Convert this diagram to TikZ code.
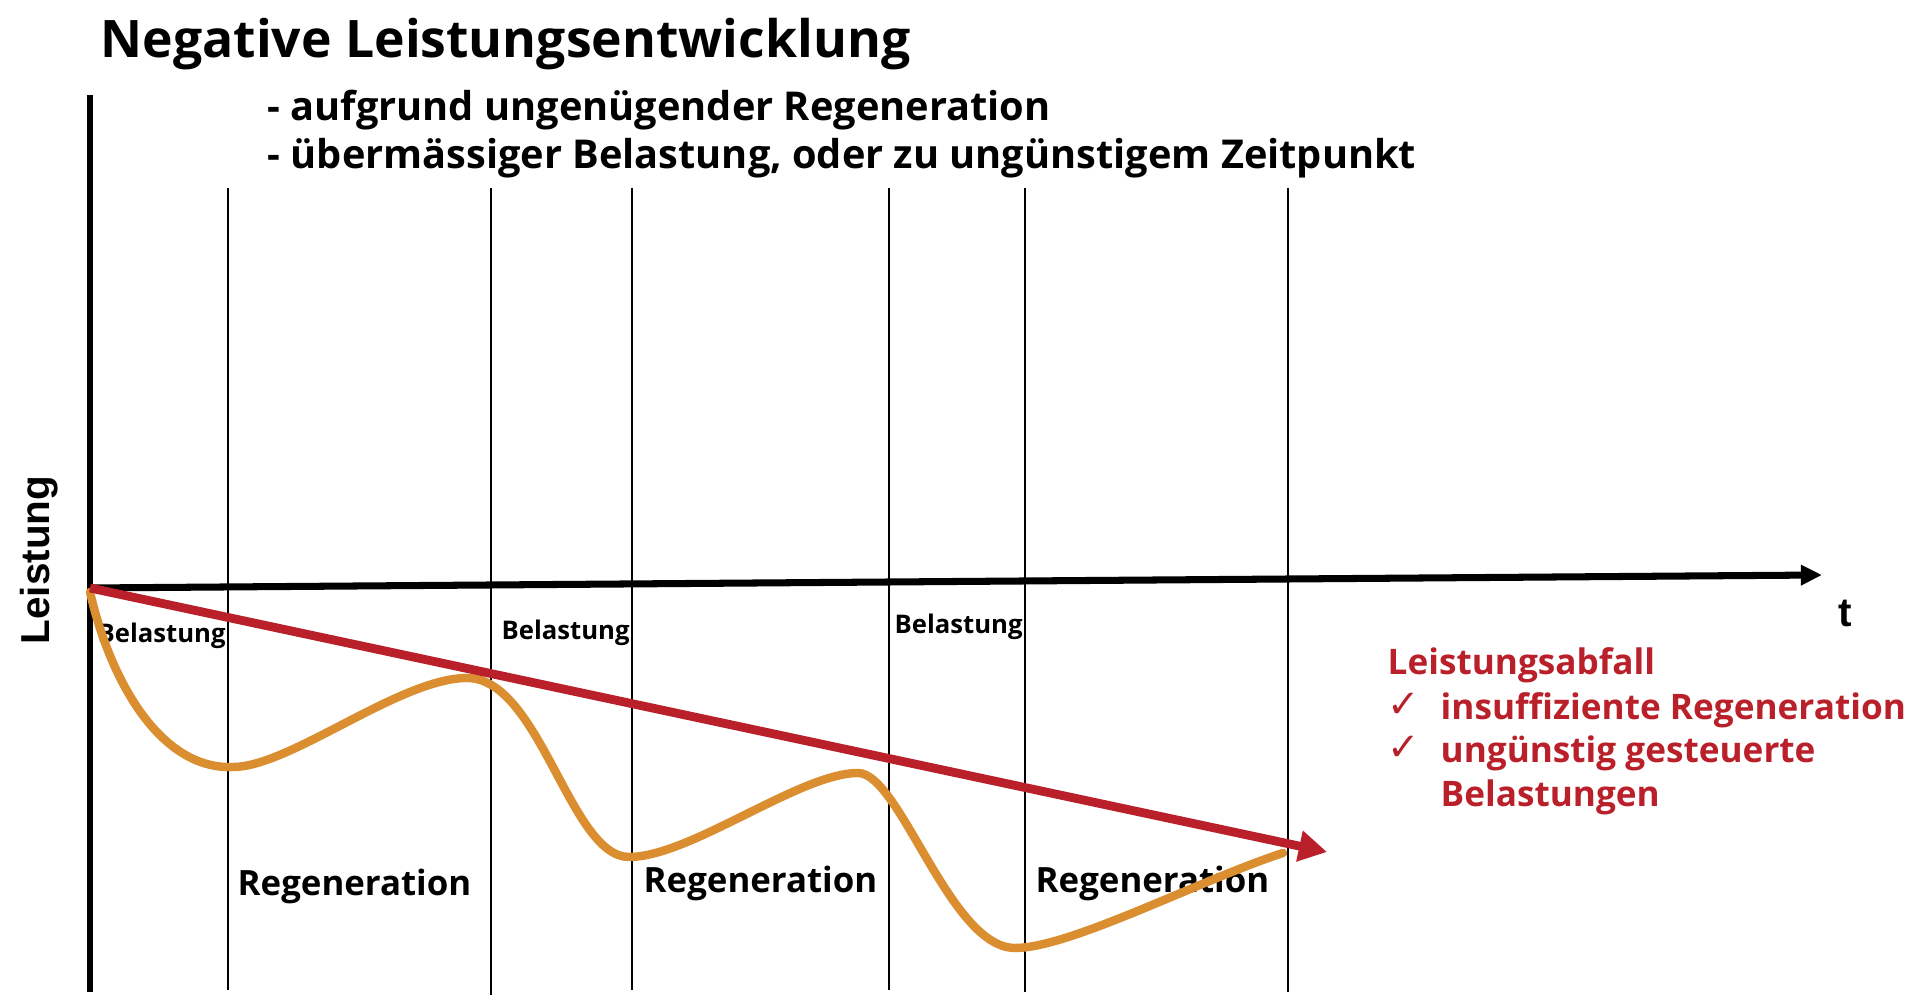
\documentclass[tikz,border=0pt]{standalone}
\usepackage{fontspec}
\setmainfont{Open Sans}
\newfontfamily\arialfont{Liberation Sans}
\newfontfamily\zeichenfont{DejaVu Sans}
\usetikzlibrary{arrows.meta}
\definecolor{abfallrot}{RGB}{185,32,42}
\definecolor{kurvenorange}{RGB}{218,142,48}
\begin{document}
\begin{tikzpicture}[x=0.01cm,y=-0.01cm,
    txt/.style={anchor=base west,inner sep=0pt,font=\bfseries},
    grenze/.style={line width=0.65pt},
    achse/.style={line width=1.7pt},
    rottxt/.style={txt,text=abfallrot,font=\bfseries\fontsize{10}{12}\selectfont}]
  \useasboundingbox (0,0) rectangle (1920,1004);

  % Ueberschriften
  \node (titel) at (100,58) [txt,font=\bfseries\fontsize{14.7}{17}\selectfont] {Negative Leistungsentwicklung} ;
  \node (sub1) at (267,121) [txt,font=\bfseries\fontsize{11.3}{13}\selectfont] {- aufgrund ungenügender Regeneration} ;
  \node (sub2) at (267,169) [txt,font=\bfseries\fontsize{11.3}{13}\selectfont] {- übermässiger Belastung, oder zu ungünstigem Zeitpunkt} ;

  % Grenzlinien
  \coordinate (g1o) at (228,188);  \coordinate (g1u) at (228,990);
  \coordinate (g2o) at (491,188);  \coordinate (g2u) at (491,995);
  \coordinate (g3o) at (632,188);  \coordinate (g3u) at (632,990);
  \coordinate (g4o) at (889,188);  \coordinate (g4u) at (889,990);
  \coordinate (g5o) at (1025,188); \coordinate (g5u) at (1025,992);
  \coordinate (g6o) at (1288,188); \coordinate (g6u) at (1288,992);
  \draw [grenze] (g1o) -- (g1u);
  \draw [grenze] (g2o) -- (g2u);
  \draw [grenze] (g3o) -- (g3u);
  \draw [grenze] (g4o) -- (g4u);
  \draw [grenze] (g5o) -- (g5u);
  \draw [grenze] (g6o) -- (g6u);

  % Achsen
  \coordinate (oben) at (90,95);
  \coordinate (unten) at (90,992);
  \coordinate (null) at (90,588);
  \coordinate (tend) at (1822,575);
  \draw [achse] (oben) -- (unten);
  \draw [achse,line width=2pt,-{Triangle[length=6pt,width=5.5pt]}] (null) -- (tend);
  \node (leistung) at (49,645) [txt,rotate=90,font=\arialfont\bfseries\fontsize{11.5}{13}\selectfont] {Leistung} ;
  \node (t) at (1838,627) [txt,font=\arialfont\bfseries\fontsize{11.5}{13}\selectfont] {t} ;

  % Phasen
  \node (bel1) at (97,643) [txt,font=\bfseries\fontsize{7.3}{9}\selectfont] {Belastung} ;
  \node (bel2) at (501,640) [txt,font=\bfseries\fontsize{7.3}{9}\selectfont] {Belastung} ;
  \node (bel3) at (894,634) [txt,font=\bfseries\fontsize{7.3}{9}\selectfont] {Belastung} ;
  \node (reg1) at (237,896) [txt,font=\bfseries\fontsize{9.9}{12}\selectfont] {Regeneration} ;
  \node (reg2) at (643,893) [txt,font=\bfseries\fontsize{9.9}{12}\selectfont] {Regeneration} ;
  \node (reg3) at (1035,893) [txt,font=\bfseries\fontsize{9.9}{12}\selectfont] {Regeneration} ;

  % Leistungskurve
  \coordinate (k0) at (90,592);
  \coordinate (k1) at (233,767);
  \coordinate (k2) at (467,678);
  \coordinate (k3) at (629,857);
  \coordinate (k4) at (858,773);
  \coordinate (k5) at (1015,948);
  \coordinate (k6) at (1283,853);
  \draw [kurvenorange,line width=2.4pt,line cap=round] (k0)
    .. controls (110,680) and (160,770) .. (k1)
    .. controls (290,767) and (400,678) .. (k2)
    .. controls (540,678) and (570,857) .. (k3)
    .. controls (690,857) and (800,773) .. (k4)
    .. controls (900,773) and (950,948) .. (k5)
    .. controls (1070,948) and (1200,880) .. (k6);

  % Trend
  \coordinate (rend) at (1327,852);
  \draw [abfallrot,line width=2.5pt,-{Triangle[length=8pt,width=8.5pt]}] (null) -- (rend);

  % Leistungsabfall
  \node (abf0) at (1387,675) [rottxt] {Leistungsabfall} ;
  \node (chk1) at (1387,718) [txt,text=abfallrot,font=\zeichenfont\fontsize{11}{13}\selectfont] {✓} ;
  \node (abf1) at (1440,720) [rottxt] {insuffiziente Regeneration} ;
  \node (chk2) at (1387,761) [txt,text=abfallrot,font=\zeichenfont\fontsize{11}{13}\selectfont] {✓} ;
  \node (abf2) at (1440,763) [rottxt] {ungünstig gesteuerte} ;
  \node (abf3) at (1440,807) [rottxt] {Belastungen} ;
\end{tikzpicture}
\end{document}
